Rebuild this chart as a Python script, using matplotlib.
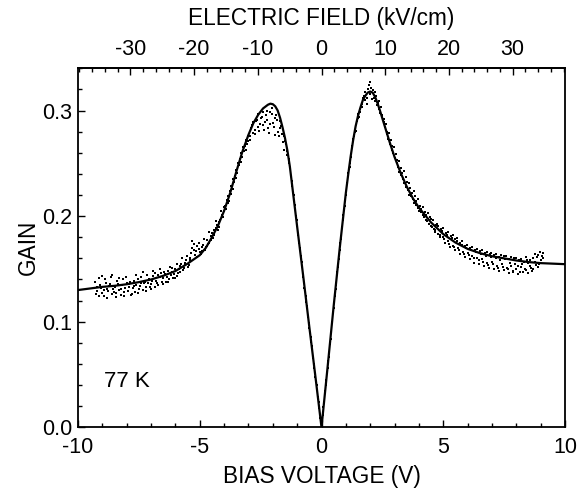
import numpy as np
import matplotlib
matplotlib.use("Agg")
import matplotlib.pyplot as plt
from matplotlib.ticker import MultipleLocator, FormatStrFormatter

plt.rcParams['font.family'] = ['Liberation Sans', 'DejaVu Sans']
plt.rcParams['axes.unicode_minus'] = False

# conversion bias voltage (V) -> electric field (kV/cm)
FIELD_PER_VOLT = 3.82

# fitted curve
fit_v = [-10, -9.5, -9, -8.5, -8, -7.5, -7, -6.5, -6, -5.5, -5, -4.75, -4.5, -4.25,
         -4, -3.75, -3.5, -3.25, -3.0, -2.8, -2.6, -2.4, -2.2, -2.1, -2.0, -1.9,
         -1.8, -1.7, -1.6, -1.5, -1.4, -1.3, -1.2, -1.0, -0.75, -0.5, -0.25, 0.0,
         0.25, 0.5, 0.75, 1.0, 1.1, 1.2, 1.3, 1.4, 1.5, 1.6, 1.7, 1.8, 1.9, 2.0,
         2.1, 2.2, 2.3, 2.4, 2.6, 2.8, 3.0, 3.25, 3.5, 3.75, 4.0, 4.5, 5.0, 5.5,
         6.0, 6.5, 7.0, 7.5, 8.0, 8.5, 9.0, 9.5, 10]
fit_g = [0.130, 0.1315, 0.133, 0.134, 0.1355, 0.1375, 0.140, 0.1435, 0.148, 0.155,
         0.163, 0.170, 0.180, 0.191, 0.205, 0.222, 0.242, 0.261, 0.277, 0.288,
         0.296, 0.302, 0.3055, 0.3065, 0.306, 0.304, 0.300, 0.293, 0.284, 0.274,
         0.262, 0.247, 0.228, 0.190, 0.143, 0.095, 0.048, 0.0,
         0.057, 0.115, 0.170, 0.222, 0.240, 0.257, 0.272, 0.285, 0.295, 0.303,
         0.310, 0.314, 0.317, 0.318, 0.317, 0.313, 0.307, 0.300, 0.285, 0.270,
         0.256, 0.241, 0.228, 0.217, 0.208, 0.194, 0.183, 0.175, 0.169, 0.165,
         0.162, 0.160, 0.158, 0.1565, 0.1555, 0.155, 0.1545]

# measured data, sweep A: bias from -9.3 V in 0.1 V steps
data_a_start = -9.3
data_a_g = [
    0.138, 0.129, 0.135, 0.127, 0.140, 0.131, 0.136, 0.126, 0.133, 0.139,
    0.130, 0.135, 0.128, 0.137, 0.133, 0.126, 0.139, 0.135, 0.131, 0.142,
    0.137, 0.133, 0.140, 0.136, 0.143, 0.139, 0.135, 0.146, 0.141, 0.138,
    0.148, 0.144, 0.141, 0.150, 0.146, 0.153, 0.149, 0.156, 0.152, 0.160,
    0.170, 0.163, 0.172, 0.166, 0.171, 0.168, 0.177, 0.175, 0.184, 0.182,
    0.192, 0.190, 0.201, 0.205, 0.215, 0.214, 0.229, 0.232, 0.244, 0.248,
    0.260, 0.262, 0.272, 0.271, 0.283, 0.279, 0.290, 0.284, 0.293, 0.286,
    0.296, 0.283, 0.299, 0.288, 0.293, 0.280, 0.290, 0.270, 0.271, 0.262,
    0.246, 0.229, 0.211, 0.191, 0.170, 0.153, 0.132, 0.115, 0.094, 0.077,
    0.056, 0.040, 0.018, 0.002, 0.024, 0.045, 0.067, 0.089, 0.113, 0.135,
    0.159, 0.178, 0.201, 0.220, 0.241, 0.256, 0.273, 0.281, 0.297, 0.301,
    0.312, 0.310, 0.320, 0.316, 0.319, 0.309, 0.307, 0.298, 0.296, 0.284,
    0.280, 0.268, 0.266, 0.255, 0.253, 0.242, 0.241, 0.231, 0.232, 0.220,
    0.222, 0.212, 0.214, 0.205, 0.207, 0.199, 0.201, 0.193, 0.197, 0.188,
    0.192, 0.183, 0.188, 0.180, 0.184, 0.176, 0.181, 0.172, 0.178, 0.170,
    0.175, 0.166, 0.172, 0.165, 0.170, 0.162, 0.168, 0.160, 0.167, 0.159,
    0.165, 0.156, 0.164, 0.157, 0.163, 0.153, 0.161, 0.155, 0.162, 0.151,
    0.159, 0.153, 0.160, 0.150, 0.158, 0.152, 0.157, 0.149, 0.156, 0.151,
    0.160, 0.154, 0.163, 0.158, 0.165]

# measured data, sweep B: bias from -9.25 V in 0.1 V steps
data_b_start = -9.25
data_b_g = [
    0.126, 0.141, 0.132, 0.124, 0.137, 0.129, 0.142, 0.131, 0.127, 0.136,
    0.125, 0.140, 0.132, 0.129, 0.138, 0.132, 0.128, 0.140, 0.134, 0.130,
    0.138, 0.144, 0.133, 0.139, 0.146, 0.137, 0.142, 0.138, 0.147, 0.142,
    0.140, 0.151, 0.145, 0.143, 0.150, 0.155, 0.151, 0.158, 0.154, 0.165,
    0.174, 0.167, 0.169, 0.164, 0.173, 0.171, 0.174, 0.181, 0.179, 0.189,
    0.187, 0.196, 0.199, 0.210, 0.212, 0.224, 0.226, 0.238, 0.241, 0.254,
    0.256, 0.266, 0.268, 0.276, 0.286, 0.282, 0.291, 0.281, 0.294, 0.282,
    0.291, 0.279, 0.297, 0.284, 0.296, 0.276, 0.285, 0.263, 0.268, 0.254,
    0.238, 0.220, 0.200, 0.182, 0.162, 0.142, 0.124, 0.104, 0.086, 0.066,
    0.048, 0.029, 0.009, 0.012, 0.034, 0.056, 0.079, 0.100, 0.124, 0.147,
    0.168, 0.190, 0.210, 0.231, 0.247, 0.266, 0.276, 0.290, 0.294, 0.306,
    0.314, 0.312, 0.324, 0.321, 0.312, 0.314, 0.301, 0.303, 0.289, 0.287,
    0.273, 0.272, 0.260, 0.259, 0.247, 0.246, 0.235, 0.237, 0.225, 0.227,
    0.216, 0.219, 0.208, 0.210, 0.201, 0.204, 0.195, 0.199, 0.190, 0.187,
    0.193, 0.182, 0.186, 0.178, 0.182, 0.174, 0.179, 0.171, 0.176, 0.168,
    0.173, 0.164, 0.170, 0.163, 0.168, 0.160, 0.166, 0.158, 0.164, 0.157,
    0.162, 0.154, 0.161, 0.155, 0.160, 0.151, 0.158, 0.152, 0.159, 0.150,
    0.156, 0.148, 0.155, 0.153, 0.147, 0.155, 0.150, 0.158, 0.153, 0.148,
    0.157, 0.161, 0.155, 0.162]

# measured data, sweep C: bias from -9.22 V in 0.1 V steps
data_c_start = -9.22
data_c_g = [
    0.133, 0.124, 0.143, 0.130, 0.122, 0.134, 0.144, 0.128, 0.123, 0.141,
    0.131, 0.124, 0.142, 0.136, 0.125, 0.134, 0.144, 0.127, 0.137, 0.147,
    0.129, 0.137, 0.131, 0.148, 0.133, 0.144, 0.150, 0.136, 0.145, 0.138,
    0.152, 0.147, 0.141, 0.155, 0.147, 0.160, 0.154, 0.162, 0.158, 0.176,
    0.168, 0.161, 0.175, 0.167, 0.178, 0.172, 0.185, 0.177, 0.187, 0.195,
    0.194, 0.205, 0.209, 0.207, 0.219, 0.221, 0.235, 0.236, 0.250, 0.251,
    0.265, 0.263, 0.276, 0.272, 0.289, 0.278, 0.297, 0.287, 0.299, 0.289,
    0.300, 0.287, 0.302, 0.277, 0.291, 0.283, 0.278, 0.276, 0.258, 0.250,
    0.233, 0.214, 0.196, 0.175, 0.157, 0.137, 0.119, 0.099, 0.081, 0.060,
    0.043, 0.024, 0.005, 0.019, 0.040, 0.063, 0.084, 0.108, 0.131, 0.152,
    0.175, 0.196, 0.214, 0.238, 0.250, 0.271, 0.280, 0.293, 0.299, 0.303,
    0.318, 0.306, 0.327, 0.311, 0.318, 0.305, 0.309, 0.294, 0.292, 0.278,
    0.279, 0.263, 0.265, 0.250, 0.252, 0.239, 0.243, 0.228, 0.231, 0.219,
    0.224, 0.211, 0.216, 0.204, 0.209, 0.196, 0.203, 0.191, 0.196, 0.185,
    0.191, 0.180, 0.189, 0.175, 0.185, 0.171, 0.182, 0.168, 0.179, 0.164,
    0.176, 0.161, 0.173, 0.159, 0.171, 0.156, 0.169, 0.155, 0.168, 0.153,
    0.166, 0.151, 0.165, 0.150, 0.164, 0.148, 0.163, 0.149, 0.162, 0.146,
    0.161, 0.147, 0.160, 0.145, 0.159, 0.147, 0.161, 0.146, 0.158, 0.150,
    0.164, 0.152, 0.166, 0.160]

x_ticks = [-10, -5, 0, 5, 10]
y_ticks = [0.0, 0.1, 0.2, 0.3]
field_ticks = [-30, -20, -10, 0, 10, 20, 30]

fig = plt.figure(figsize=(5.77, 4.91), dpi=100)
ax = fig.add_axes([0.1352, 0.1297, 0.9792 - 0.1352, 0.8609 - 0.1297])

for start, g in [(data_a_start, data_a_g), (data_b_start, data_b_g),
                 (data_c_start, data_c_g)]:
    v = start + 0.1 * np.arange(len(g))
    ax.plot(v, g, linestyle='none', marker='s', markersize=1.6,
            color='black', markeredgewidth=0)
ax.plot(fit_v, fit_g, color='black', linewidth=1.6)

ax.set_xlim(-10, 10)
ax.set_ylim(0, 0.34)
ax.set_xticks(x_ticks)
ax.set_yticks(y_ticks)
ax.yaxis.set_major_formatter(FormatStrFormatter('%.1f'))
ax.xaxis.set_minor_locator(MultipleLocator(1))
ax.yaxis.set_minor_locator(MultipleLocator(0.02))
ax.tick_params(which='both', direction='in', top=False, right=False,
               labelsize=15.5, width=1.0)
ax.tick_params(which='major', length=5)
ax.tick_params(which='minor', length=3)
ax.tick_params(axis='x', which='both', pad=7)
ax.tick_params(axis='y', which='both', pad=4)
for s in ax.spines.values():
    s.set_linewidth(1.3)

ax.set_xlabel('BIAS VOLTAGE (V)', fontsize=16.3, labelpad=5)
ax.set_ylabel('GAIN', fontsize=16.3, labelpad=2)

sec = ax.secondary_xaxis('top', functions=(lambda v: v * FIELD_PER_VOLT,
                                           lambda e: e / FIELD_PER_VOLT))
sec.set_xticks(field_ticks)
sec.xaxis.set_minor_locator(MultipleLocator(2))
sec.tick_params(which='both', direction='in', labelsize=15.5, width=1.0, pad=6)
sec.tick_params(which='major', length=5)
sec.tick_params(which='minor', length=3)
sec.spines['top'].set_linewidth(1.3)
sec.set_xlabel('ELECTRIC FIELD (kV/cm)', fontsize=16.3, labelpad=10)

ax.text(-8.95, 0.043, '77 K', fontsize=16, va='center', ha='left')

fig.savefig('out.png', dpi=100)
